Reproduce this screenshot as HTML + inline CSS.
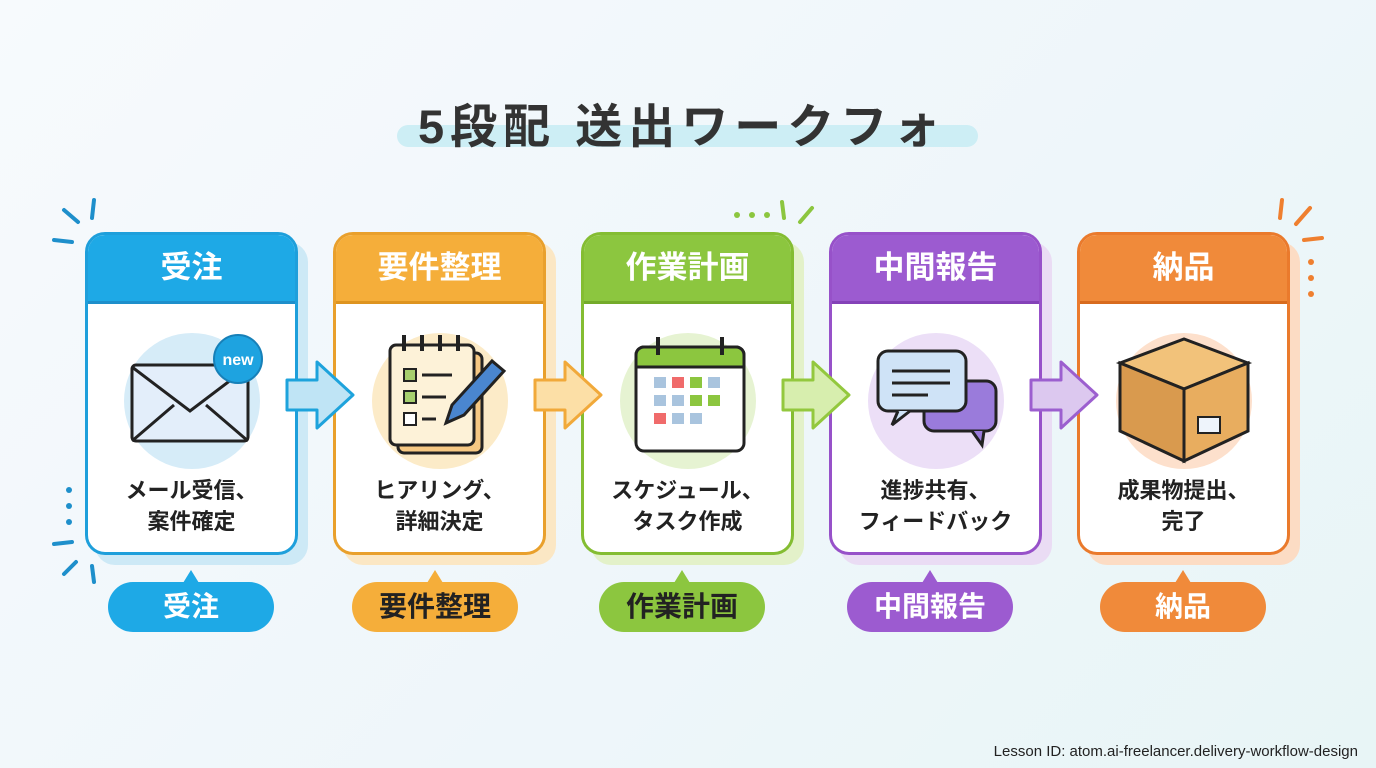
<!DOCTYPE html><html><head><meta charset="utf-8"><style>
body{margin:0;width:1376px;height:768px;overflow:hidden;background:linear-gradient(135deg,#f7fafd 0%,#eef6fa 60%,#e8f5f6 100%);font-family:"Liberation Sans","Noto Sans CJK JP",sans-serif;position:relative}
.t{position:absolute;left:418px;top:88px;white-space:nowrap;font-size:47px;font-weight:bold;color:#333;z-index:2;letter-spacing:6px}
.hl{position:absolute;left:397px;top:125px;width:581px;height:22px;border-radius:11px;background:#cdeef5}
.sh{position:absolute;width:213px;height:323px;border-radius:20px;top:242px}
.c{position:absolute;top:232px;width:207px;height:317px;border:3px solid;border-radius:20px;background:#fff;overflow:hidden}
.h{height:66px;color:#fff;font-size:31px;font-weight:bold;text-align:center;line-height:66px}
.d{position:absolute;top:240px;width:100%;text-align:center;font-size:22px;font-weight:bold;color:#222;line-height:31px}
.p{position:absolute;top:582px;width:166px;height:50px;border-radius:25px;text-align:center;line-height:50px;font-size:28px;font-weight:bold}
.p:before{content:"";position:absolute;left:75px;top:-12px;border-left:8px solid transparent;border-right:8px solid transparent;border-bottom:13px solid;border-bottom-color:inherit}
.ci{position:absolute;left:36px;top:98px;width:136px;height:136px;border-radius:50%}
.ic{position:absolute;left:0;top:0}
.foot{position:absolute;right:18px;top:743px;font-size:15px;color:#222}
</style></head><body>
<div class="hl"></div><div class="t">5段配 送出ワークフォ</div>

<div class="sh" style="left:95px;background:#cde9f6"></div>
<div class="sh" style="left:343px;background:#fbe7c4"></div>
<div class="sh" style="left:591px;background:#e3f1c9"></div>
<div class="sh" style="left:839px;background:#eadcf4"></div>
<div class="sh" style="left:1087px;background:#fcdcc4"></div>

<svg class="ic" width="1376" height="768" style="z-index:1">
<g stroke-width="3" stroke-linejoin="round">
<path d="M287 380h30v-18l36 33-36 33v-18h-30z" fill="#bfe4f5" stroke="#1ea3dc"/>
<path d="M535 380h30v-18l36 33-36 33v-18h-30z" fill="#fcdfa6" stroke="#f1a93a"/>
<path d="M783 380h30v-18l36 33-36 33v-18h-30z" fill="#d7eeae" stroke="#93c83e"/>
<path d="M1031 380h30v-18l36 33-36 33v-18h-30z" fill="#dcc8ef" stroke="#9c5fcf"/>
</g>
<g stroke="#1e8fcb" stroke-width="4" stroke-linecap="round">
<line x1="64" y1="210" x2="78" y2="222"/><line x1="94" y1="200" x2="92" y2="218"/><line x1="54" y1="240" x2="72" y2="242"/>
<line x1="54" y1="544" x2="72" y2="542"/><line x1="64" y1="574" x2="76" y2="562"/><line x1="92" y1="566" x2="94" y2="582"/>
</g>
<g fill="#1e8fcb"><circle cx="69" cy="490" r="3"/><circle cx="69" cy="506" r="3"/><circle cx="69" cy="522" r="3"/></g>
<g stroke="#8cc63f" stroke-width="4" stroke-linecap="round"><line x1="782" y1="202" x2="784" y2="218"/><line x1="812" y1="208" x2="800" y2="222"/></g>
<g fill="#8cc63f"><circle cx="737" cy="215" r="3"/><circle cx="752" cy="215" r="3"/><circle cx="767" cy="215" r="3"/></g>
<g stroke="#ef7f2f" stroke-width="4" stroke-linecap="round"><line x1="1282" y1="200" x2="1280" y2="218"/><line x1="1310" y1="208" x2="1296" y2="224"/><line x1="1304" y1="240" x2="1322" y2="238"/></g>
<g fill="#ef7f2f"><circle cx="1311" cy="262" r="3"/><circle cx="1311" cy="278" r="3"/><circle cx="1311" cy="294" r="3"/></g>
</svg>

<div class="c" style="left:85px;border-color:#1e9fdb"><div class="h" style="background:#1ea9e6;border-bottom:3px solid #1e8fcb">受注</div>
<div class="ci" style="background:#d6ecf8"></div>
<svg class="ic" width="207" height="317"><rect x="44" y="130" width="116" height="76" rx="4" fill="#e3eefa" stroke="#222" stroke-width="3"/><path d="M44 132l58 44 58-44M44 206l42-36M160 206l-42-36" fill="none" stroke="#222" stroke-width="3"/><circle cx="150" cy="124" r="24" fill="#1ea3e0" stroke="#1780b8" stroke-width="2"/><text x="150" y="130" text-anchor="middle" fill="#fff" font-size="16" font-weight="bold">new</text></svg>
<div class="d">メール受信、<br>案件確定</div></div>

<div class="c" style="left:333px;border-color:#e9a02c"><div class="h" style="background:#f5ae3a;border-bottom:3px solid #de9420">要件整理</div>
<div class="ci" style="background:#fcebc8"></div>
<svg class="ic" width="207" height="317"><rect x="62" y="118" width="84" height="100" rx="6" fill="#f6c883" stroke="#222" stroke-width="3"/><rect x="54" y="110" width="84" height="100" rx="6" fill="#fdf2d8" stroke="#222" stroke-width="3"/><g stroke="#222" stroke-width="4"><line x1="68" y1="100" x2="68" y2="116"/><line x1="86" y1="100" x2="86" y2="116"/><line x1="104" y1="100" x2="104" y2="116"/><line x1="122" y1="100" x2="122" y2="116"/></g><g fill="#a6cf6e" stroke="#222" stroke-width="2"><rect x="68" y="134" width="12" height="12"/><rect x="68" y="156" width="12" height="12"/><rect x="68" y="178" width="12" height="12" fill="#fff"/></g><g stroke="#222" stroke-width="3"><line x1="86" y1="140" x2="116" y2="140"/><line x1="86" y1="162" x2="110" y2="162"/><line x1="86" y1="184" x2="100" y2="184"/></g><path d="M110 188l6-18 40-44 12 10-40 44z" fill="#4a86cf" stroke="#222" stroke-width="3"/></svg>
<div class="d">ヒアリング、<br>詳細決定</div></div>

<div class="c" style="left:581px;border-color:#84bd32"><div class="h" style="background:#8cc63f;border-bottom:3px solid #74ab2a">作業計画</div>
<div class="ci" style="background:#e6f3d2"></div>
<svg class="ic" width="207" height="317"><rect x="52" y="112" width="108" height="104" rx="8" fill="#fff" stroke="#222" stroke-width="3"/><path d="M52 120a8 8 0 0 1 8-8h92a8 8 0 0 1 8 8v12H52z" fill="#8cc63f" stroke="#222" stroke-width="3"/><g stroke="#222" stroke-width="4"><line x1="74" y1="102" x2="74" y2="120"/><line x1="138" y1="102" x2="138" y2="120"/></g><g><rect x="70" y="142" width="12" height="11" fill="#a9c4de"/><rect x="88" y="142" width="12" height="11" fill="#f06b6b"/><rect x="106" y="142" width="12" height="11" fill="#8cc63f"/><rect x="124" y="142" width="12" height="11" fill="#a9c4de"/><rect x="70" y="160" width="12" height="11" fill="#a9c4de"/><rect x="88" y="160" width="12" height="11" fill="#a9c4de"/><rect x="106" y="160" width="12" height="11" fill="#8cc63f"/><rect x="124" y="160" width="12" height="11" fill="#8cc63f"/><rect x="70" y="178" width="12" height="11" fill="#f06b6b"/><rect x="88" y="178" width="12" height="11" fill="#a9c4de"/><rect x="106" y="178" width="12" height="11" fill="#a9c4de"/></g></svg>
<div class="d">スケジュール、<br>タスク作成</div></div>

<div class="c" style="left:829px;border-color:#9751c9"><div class="h" style="background:#9c5bd0;border-bottom:3px solid #8442b8">中間報告</div>
<div class="ci" style="background:#ecdff7"></div>
<svg class="ic" width="207" height="317"><rect x="92" y="146" width="72" height="50" rx="10" fill="#9a7bdb" stroke="#222" stroke-width="3"/><path d="M140 196l10 14 2-14" fill="#9a7bdb" stroke="#222" stroke-width="3"/><rect x="46" y="116" width="88" height="60" rx="10" fill="#cfe3f7" stroke="#222" stroke-width="3"/><path d="M66 176l-6 14 18-14" fill="#cfe3f7" stroke="#222" stroke-width="3"/><g stroke="#222" stroke-width="3"><line x1="60" y1="136" x2="118" y2="136"/><line x1="60" y1="148" x2="118" y2="148"/><line x1="60" y1="160" x2="96" y2="160"/></g></svg>
<div class="d">進捗共有、<br>フィードバック</div></div>

<div class="c" style="left:1077px;border-color:#ea7a2c"><div class="h" style="background:#f08a3a;border-bottom:3px solid #d86b1e">納品</div>
<div class="ci" style="background:#fde0cc"></div>
<svg class="ic" width="207" height="317"><path d="M40 128l64-24 64 24-64 26z" fill="#f2c27a" stroke="#222" stroke-width="3"/><path d="M40 128v68l64 30v-72z" fill="#d99a4e" stroke="#222" stroke-width="3"/><path d="M104 154v72l64-30v-68z" fill="#e8ad5f" stroke="#222" stroke-width="3"/><rect x="118" y="182" width="22" height="16" fill="#eef4fb" stroke="#222" stroke-width="2"/></svg>
<div class="d">成果物提出、<br>完了</div></div>

<div class="p" style="left:108px;background:#1ea9e6;color:#fff;border-bottom-color:#1ea9e6">受注</div>
<div class="p" style="left:352px;background:#f5ae3a;color:#222;border-bottom-color:#f5ae3a">要件整理</div>
<div class="p" style="left:599px;background:#8cc63f;color:#222;border-bottom-color:#8cc63f">作業計画</div>
<div class="p" style="left:847px;background:#9c5bd0;color:#fff;border-bottom-color:#9c5bd0">中間報告</div>
<div class="p" style="left:1100px;background:#f08a3a;color:#fff;border-bottom-color:#f08a3a">納品</div>
<div class="foot">Lesson ID: atom.ai-freelancer.delivery-workflow-design</div>
</body></html>
